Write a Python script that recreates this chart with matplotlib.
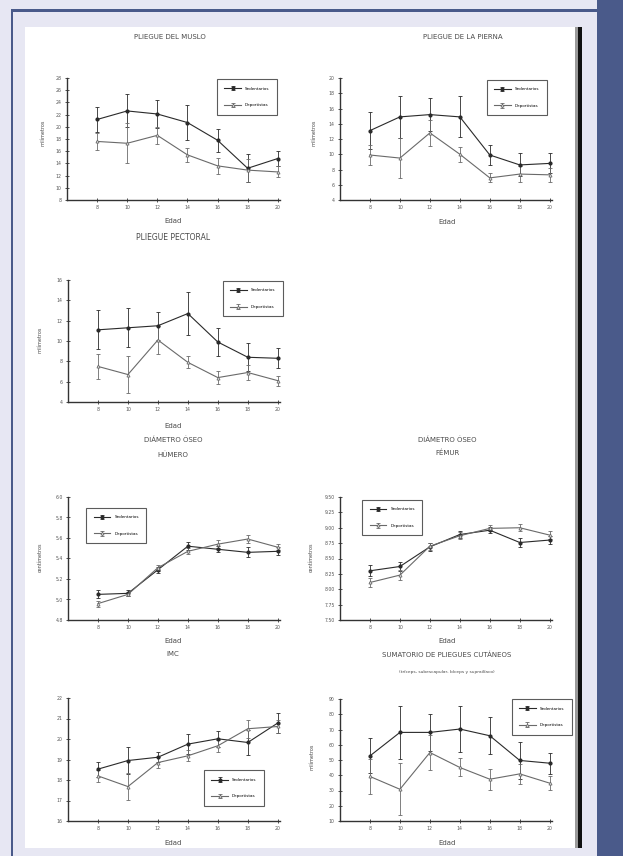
import matplotlib
matplotlib.use("Agg")
import matplotlib.pyplot as plt
from matplotlib.patches import Rectangle

W, H = 623, 856

# ── data ──────────────────────────────────────────────────────────
edad = [8, 10, 12, 14, 16, 18, 20]
series = ["Sedentarios", "Deportistas"]

muslo_sed = [21.2, 22.6, 22.1, 20.7, 17.8, 13.2, 14.8]
muslo_sed_err = [2.1, 2.7, 2.3, 2.8, 1.9, 2.3, 1.3]
muslo_dep = [17.6, 17.3, 18.6, 15.4, 13.6, 12.9, 12.6]
muslo_dep_err = [1.4, 3.3, 1.4, 1.2, 1.3, 1.9, 0.9]
muslo_ticks = [8, 10, 12, 14, 16, 18, 20, 22, 24, 26, 28]

pierna_sed = [13.1, 14.9, 15.2, 14.9, 9.9, 8.6, 8.8]
pierna_sed_err = [2.4, 2.8, 2.2, 2.7, 1.3, 1.5, 1.3]
pierna_dep = [9.9, 9.5, 12.8, 10.0, 6.9, 7.4, 7.3]
pierna_dep_err = [1.3, 2.6, 1.7, 1.0, 0.6, 1.0, 0.9]
pierna_ticks = [4, 6, 8, 10, 12, 14, 16, 18, 20]

pect_sed = [11.1, 11.3, 11.5, 12.7, 9.9, 8.4, 8.3]
pect_sed_err = [1.9, 1.9, 1.4, 2.1, 1.4, 1.4, 1.0]
pect_dep = [7.5, 6.7, 10.1, 7.9, 6.4, 6.9, 6.1]
pect_dep_err = [1.2, 1.8, 1.4, 0.6, 0.6, 0.7, 0.5]
pect_ticks = [4, 6, 8, 10, 12, 14, 16]

hum_sed = [5.05, 5.06, 5.29, 5.52, 5.49, 5.46, 5.47]
hum_sed_err = [0.04, 0.03, 0.03, 0.04, 0.03, 0.05, 0.04]
hum_dep = [4.96, 5.05, 5.31, 5.47, 5.54, 5.59, 5.51]
hum_dep_err = [0.03, 0.02, 0.03, 0.03, 0.04, 0.04, 0.03]
hum_ticks = [4.8, 5.0, 5.2, 5.4, 5.6, 5.8, 6.0]

fem_sed = [8.30, 8.37, 8.69, 8.89, 8.96, 8.76, 8.80]
fem_sed_err = [0.09, 0.08, 0.06, 0.06, 0.05, 0.07, 0.06]
fem_dep = [8.11, 8.23, 8.70, 8.87, 8.99, 9.00, 8.88]
fem_dep_err = [0.07, 0.08, 0.06, 0.06, 0.05, 0.06, 0.06]
fem_ticks = [7.50, 7.75, 8.00, 8.25, 8.50, 8.75, 9.00, 9.25, 9.50]

imc_sed = [18.53, 18.95, 19.11, 19.75, 20.01, 19.83, 20.78]
imc_sed_err = [0.36, 0.65, 0.24, 0.49, 0.39, 0.60, 0.47]
imc_dep = [18.20, 17.68, 18.85, 19.18, 19.67, 20.50, 20.61]
imc_dep_err = [0.31, 0.65, 0.28, 0.26, 0.28, 0.44, 0.33]
imc_ticks = [16, 17, 18, 19, 20, 21, 22]

suma_sed = [52.7, 68.1, 68.1, 70.3, 65.9, 49.7, 47.9]
suma_sed_err = [11.4, 17.5, 12.1, 15.3, 12.1, 12.3, 6.8]
suma_dep = [39.2, 30.8, 54.9, 45.1, 37.4, 40.9, 34.8]
suma_dep_err = [11.4, 17.1, 11.4, 5.9, 6.8, 6.8, 4.6]
suma_ticks = [10, 20, 30, 40, 50, 60, 70, 80, 90]

# ── palette ───────────────────────────────────────────────────────
LAV = "#e7e7f3"
BLUE = "#4a5a8a"
TXT = "#4a4a4a"
LINE_S = "#2a2a2a"
LINE_D = "#6a6a6a"

fig = plt.figure(figsize=(W / 100, H / 100), dpi=100)
fig.patch.set_facecolor(LAV)


def frect(x0, y0, x1, y1, color):
    fig.add_artist(Rectangle((x0 / W, 1 - y1 / H), (x1 - x0) / W, (y1 - y0) / H,
                             transform=fig.transFigure, facecolor=color,
                             edgecolor="none", zorder=-1))


def ftext(x, y, s, fs=5, rot=0):
    fig.text(x / W, 1 - y / H, s, fontsize=fs, color=TXT, ha="center",
             va="center", rotation=rot)


# page frame
frect(597, 0, W, H, BLUE)
frect(11, 9, 597, 12, BLUE)
frect(11, 9, 13.5, H, BLUE)
frect(25, 27, 577, 848, "white")
frect(575, 27, 578, 848, "#9a9a9a")
frect(578, 27, 582, 848, "#111111")


def panel(box, sed, sed_err, dep, dep_err, yticks, leg_loc, leg_anchor):
    x0, y0, x1, y1 = box
    ax = fig.add_axes([x0 / W, 1 - y1 / H, (x1 - x0) / W, (y1 - y0) / H])
    ax.set_facecolor("none")
    ax.errorbar(edad, sed, yerr=sed_err, color=LINE_S, lw=0.8, marker="o",
                ms=2.0, mfc=LINE_S, mec=LINE_S, elinewidth=0.6, capsize=1.2,
                capthick=0.6, label=series[0])
    ax.errorbar(edad, dep, yerr=dep_err, color=LINE_D, lw=0.8, marker="^",
                ms=2.2, mfc="white", mec=LINE_D, mew=0.6, elinewidth=0.6,
                capsize=1.2, capthick=0.6, label=series[1])
    ax.set_xlim(6, 20.15)
    ax.set_ylim(yticks[0], yticks[-1])
    ax.set_xticks(edad)
    ax.set_yticks(yticks)
    for s in ("top", "right"):
        ax.spines[s].set_visible(False)
    for s in ("left", "bottom"):
        ax.spines[s].set_linewidth(1.0)
        ax.spines[s].set_color("#333333")
    ax.tick_params(labelsize=3.3, length=2.5, width=0.6, direction="inout",
                   colors="#333333", labelcolor="#555555", pad=2.5)
    leg = ax.legend(loc=leg_loc, bbox_to_anchor=leg_anchor, fontsize=3,
                    frameon=True, fancybox=False, edgecolor="#333333",
                    borderpad=1.8, labelspacing=3.0, handlelength=4,
                    handletextpad=1.0, borderaxespad=0)
    leg.get_frame().set_linewidth(0.8)
    return ax


# ── PLIEGUE DEL MUSLO ─────────────────────────────────────────────
panel((67, 78, 280, 200), muslo_sed, muslo_sed_err, muslo_dep, muslo_dep_err,
      muslo_ticks, "upper right", (0.986, 0.99))
ftext(170, 37, "PLIEGUE DEL MUSLO")
ftext(173, 221, "Edad")
ftext(43, 133, "milímetros", fs=3.5, rot=90)

# ── PLIEGUE DE LA PIERNA ──────────────────────────────────────────
panel((340, 78, 552, 200), pierna_sed, pierna_sed_err, pierna_dep,
      pierna_dep_err, pierna_ticks, "upper right", (0.976, 0.984))
ftext(463, 37, "PLIEGUE DE LA PIERNA")
ftext(447, 222, "Edad")
ftext(314, 133, "milímetros", fs=3.5, rot=90)

# ── PLIEGUE PECTORAL ──────────────────────────────────────────────
panel((68, 280, 280, 402), pect_sed, pect_sed_err, pect_dep, pect_dep_err,
      pect_ticks, "upper right", (1.014, 0.992))
ftext(173, 238, "PLIEGUE PECTORAL", fs=5.5)
ftext(173, 426, "Edad")
ftext(40, 340, "milímetros", fs=3.5, rot=90)

# ── DIÁMETRO ÓSEO HÚMERO ──────────────────────────────────────────
panel((68, 497, 280, 620), hum_sed, hum_sed_err, hum_dep, hum_dep_err,
      hum_ticks, "upper left", (0.085, 0.911))
ftext(173, 440, "DIÁMETRO ÓSEO")
ftext(173, 455, "HÚMERO")
ftext(173, 641, "Edad")
ftext(40, 557, "centímetros", fs=3.5, rot=90)

# ── DIÁMETRO ÓSEO FÉMUR ───────────────────────────────────────────
panel((340, 497, 552, 620), fem_sed, fem_sed_err, fem_dep, fem_dep_err,
      fem_ticks, "upper left", (0.104, 0.976))
ftext(447, 440, "DIÁMETRO ÓSEO")
ftext(447, 453, "FÉMUR")
ftext(447, 641, "Edad")
ftext(311, 557, "centímetros", fs=3.5, rot=90)

# ── IMC ───────────────────────────────────────────────────────────
panel((68, 698, 280, 821), imc_sed, imc_sed_err, imc_dep, imc_dep_err,
      imc_ticks, "lower right", (0.925, 0.122))
ftext(173, 654, "IMC")
ftext(173, 843, "Edad")

# ── SUMATORIO DE PLIEGUES CUTÁNEOS ────────────────────────────────
panel((340, 699, 552, 821), suma_sed, suma_sed_err, suma_dep, suma_dep_err,
      suma_ticks, "upper right", (1.094, 1.0))
ftext(447, 655, "SUMATORIO DE PLIEGUES CUTÁNEOS")
ftext(447, 672, "(tríceps, subescapular, bíceps y suprailíaco)", fs=3.2)
ftext(447, 843, "Edad")
ftext(312, 757, "milímetros", fs=3.5, rot=90)

fig.savefig("out.png", dpi=100, facecolor=LAV)
